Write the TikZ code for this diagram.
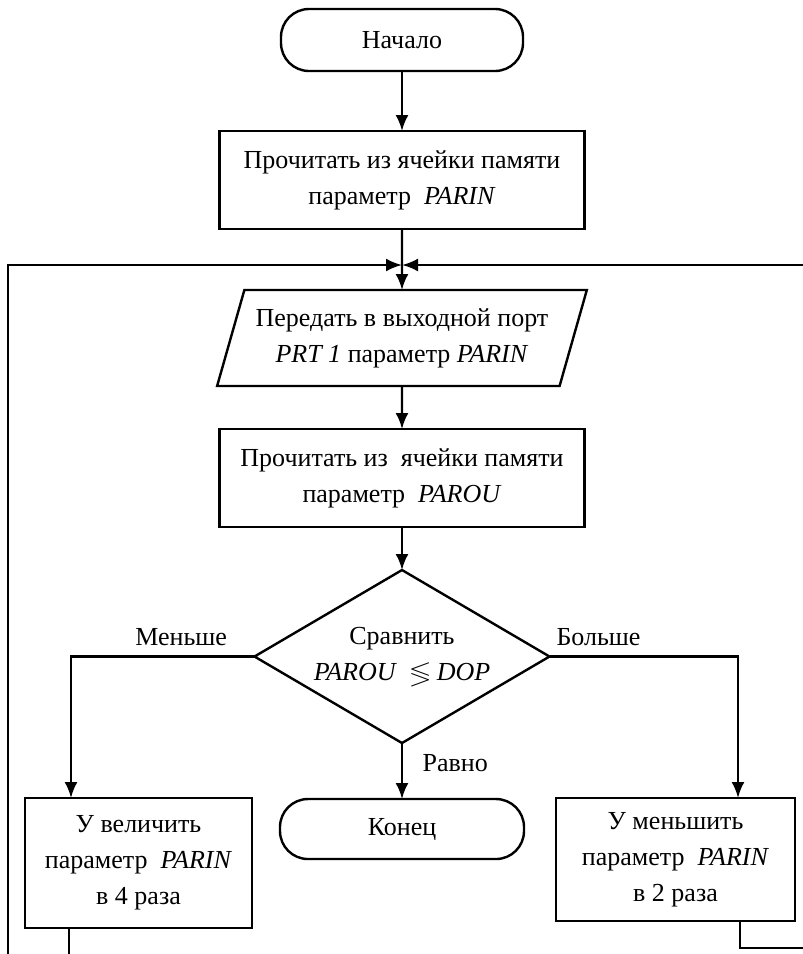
\documentclass[tikz,border=0pt]{standalone}
\usepackage{amssymb}
\usepackage{fontspec}
\setmainfont{Liberation Serif}
\usetikzlibrary{arrows.meta,positioning,shapes.geometric}

\begin{document}
\begin{tikzpicture}[x=0.5pt,y=-0.5pt,line width=1.2pt,
  every node/.style={font=\fontsize{13}{18}\selectfont,align=center,outer sep=0pt},
  term/.style={draw,rounded corners=14pt,minimum width=121pt,minimum height=31pt},
  proc/.style={draw,minimum width=182.5pt,minimum height=49pt},
  io/.style={draw,trapezium,trapezium left angle=70,trapezium right angle=110,trapezium stretches=true,minimum width=185pt,minimum height=48pt},
  decision/.style={draw,diamond,aspect=1.7,inner sep=0pt,minimum width=147.5pt,minimum height=86.5pt},
  arr/.style={-{Latex[length=8pt,width=6.5pt]}}]
\useasboundingbox (0,0) rectangle (803,954);

\node[term] (start) at (402,40) {Начало};
\node[proc,below=30pt of start] (rd1) {Прочитать из ячейки памяти\\ параметр~~\textit{PARIN}};
\coordinate[below=18pt of rd1] (jn);
\node[io,below=30.5pt of rd1] (out) {Передать в выходной порт\\ \textit{PRT 1} параметр \textit{PARIN}};
\node[proc,below=21.5pt of out] (rd2) {Прочитать из~~ячейки памяти\\ параметр~~\textit{PAROU}};
\node[decision,below=21.5pt of rd2] (cmp) {Сравнить\\ \textit{PAROU}~~$\lessgtr$~\textit{DOP}};
\node[term,minimum width=122pt,minimum height=30pt,below=28pt of cmp] (stop) {Конец};
\node[proc,minimum width=113.5pt,minimum height=65pt] (inc) at (138.5,863) {У величить\\ параметр~~\textit{PARIN}\\ в~4~раза};
\node[proc,minimum width=119.5pt,minimum height=61.5pt] (dec) at (675.5,859.5) {У меньшить\\ параметр~~\textit{PARIN}\\ в~2~раза};

\draw[arr] (start) -- (rd1);
\draw[arr] (rd1) -- (out);
\draw[arr] (out) -- (rd2);
\draw[arr] (rd2) -- (cmp);
\draw[arr] (cmp) -- node[pos=0.35,right=7pt]{Равно} (stop);
\draw[arr] (cmp.west) -| node[pos=0.2,above=2pt]{Меньше} ([xshift=-33.75pt]inc.north);
\draw[arr] (cmp.east) -| node[pos=0.13,above=2pt]{Больше} ([xshift=31.25pt]dec.north);
\draw[arr] ([xshift=-34.75pt]inc.south) -- ++(0,40) -| (8,265) -- (jn);
\draw[arr] ([xshift=32.25pt]dec.south) |- (815,948) |- (jn);
\end{tikzpicture}
\end{document}
